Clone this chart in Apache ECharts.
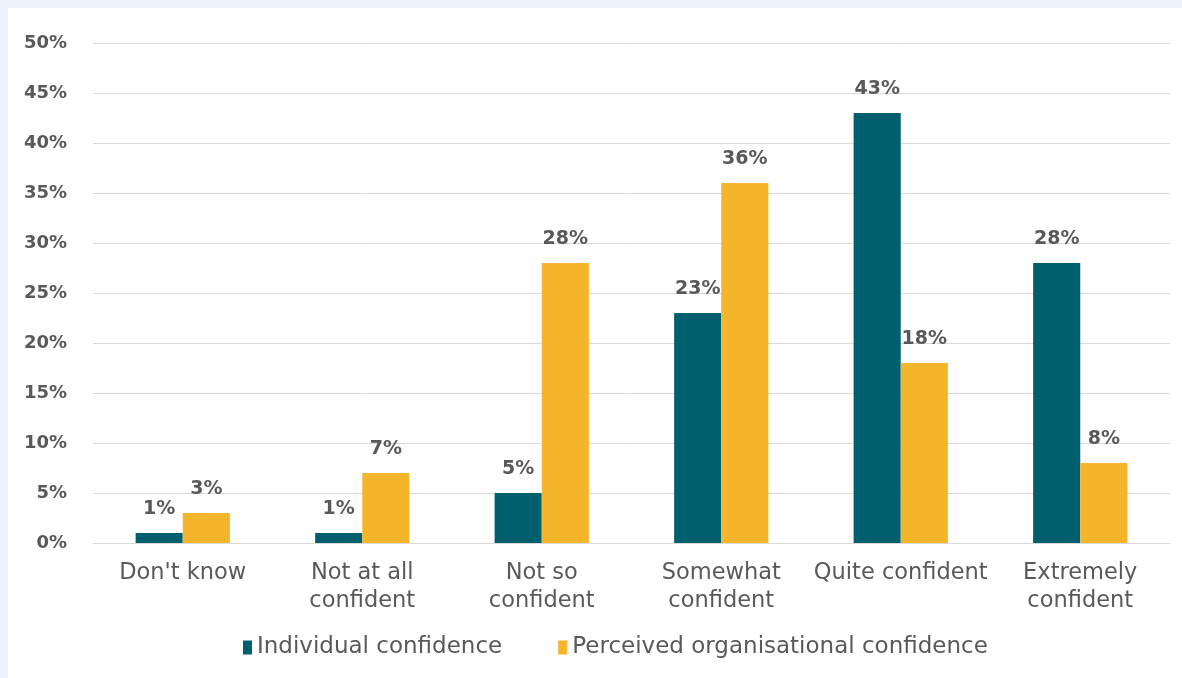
<!DOCTYPE html>
<html>
<head>
<meta charset="utf-8">
<script src="https://cdn.jsdelivr.net/npm/echarts@6/dist/echarts.min.js"></script>
<style>
  html, body { margin: 0; padding: 0; background: #edf2fa; width: 1182px; height: 678px; overflow: hidden; }
  #chart { position: absolute; left: 8px; top: 8px; width: 1174px; height: 670px; background: #ffffff; }
</style>
</head>
<body>
<div id="chart"></div>
<script>
const categories = ["Don't know", "Not at all\nconfident", "Not so\nconfident", "Somewhat\nconfident", "Quite confident", "Extremely\nconfident"];
const individualConfidence = [1, 1, 5, 23, 43, 28];
const organisationalConfidence = [3, 7, 28, 36, 18, 8];
const seriesNames = ["Individual confidence", "Perceived organisational confidence"];

const textColor = '#595959';
const font = '"DejaVu Sans", "Liberation Sans", Arial, sans-serif';

const chart = echarts.init(document.getElementById('chart'));
const labelCfg = {
  show: true, position: 'top', distance: 14,
  formatter: p => p.value + '%',
  color: textColor, fontFamily: font, fontWeight: 'bold', fontSize: 19
};
chart.setOption({
  animation: false,
  backgroundColor: '#ffffff',
  grid: { left: 85, right: 12, top: 35, bottom: 135 },
  legend: {
    bottom: 14,
    left: 230,
    itemWidth: 9, itemHeight: 14, itemGap: 56,
    icon: 'rect',
    textStyle: { color: textColor, fontFamily: font, fontSize: 23 },
    data: seriesNames
  },
  xAxis: {
    type: 'category',
    data: categories,
    axisTick: { show: false },
    axisLine: { lineStyle: { color: '#d9d9d9', width: 1 } },
    axisLabel: { color: textColor, fontFamily: font, fontSize: 22.5, lineHeight: 28, margin: 16, interval: 0 }
  },
  yAxis: {
    type: 'value', min: 0, max: 50, interval: 5,
    axisLabel: { formatter: '{value}%', color: textColor, fontFamily: font, fontWeight: 'bold', fontSize: 18, margin: 26 },
    splitLine: { lineStyle: { color: '#d9d9d9', width: 1 } },
    axisLine: { show: false }, axisTick: { show: false }
  },
  series: [
    { name: seriesNames[0], type: 'bar', data: individualConfidence, barGap: '0%', barCategoryGap: '47.5%',
      itemStyle: { color: '#005f6e' }, label: labelCfg },
    { name: seriesNames[1], type: 'bar', data: organisationalConfidence, barGap: '0%', barCategoryGap: '47.5%',
      itemStyle: { color: '#f5b52a' }, label: labelCfg }
  ]
});
</script>
</body>
</html>
